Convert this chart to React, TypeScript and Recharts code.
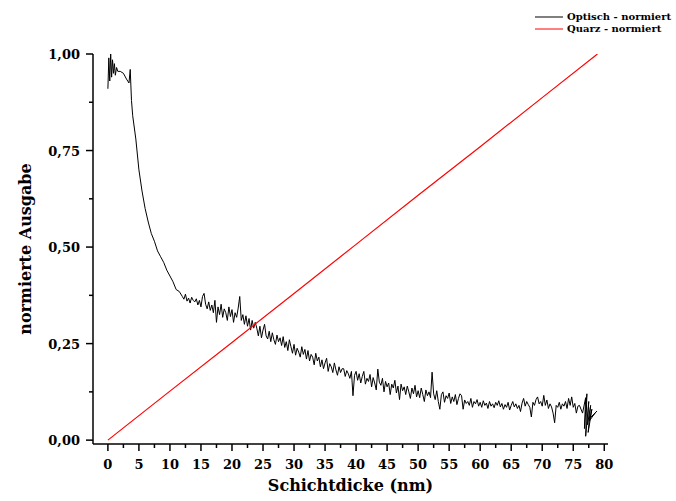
import React from 'react';
import { LineChart, Line, XAxis, YAxis, Legend } from 'recharts';

// optical signal, steep start (Schichtdicke in nm)
const START_NM = [
  0, 0.15, 0.3, 0.45, 0.6, 0.75, 0.9, 1.05, 1.2, 1.4,
  1.6, 2, 2.5, 3, 3.4, 3.6, 3.8, 4, 4.5, 5,
  5.5, 6, 6.5, 7, 7.5, 8, 8.5, 9, 9.5, 10,
  10.5, 11, 11.5,
];
const START_OPT = [
  0.91, 0.99, 0.93, 1.0, 0.94, 0.985, 0.95, 0.975, 0.945, 0.965,
  0.955, 0.955, 0.95, 0.935, 0.925, 0.96, 0.88, 0.84, 0.78, 0.7,
  0.645, 0.6, 0.565, 0.535, 0.515, 0.49, 0.475, 0.46, 0.44, 0.425,
  0.41, 0.39, 0.385,
];

// noisy middle part, sampled every 0.25 nm from 12 nm to 76 nm
const MID_FROM_NM = 12;
const MID_STEP_NM = 0.25;
const MID_OPT = [
  0.372, 0.365, 0.378, 0.36, 0.368, 0.355, 0.37, 0.362,
  0.358, 0.366, 0.35, 0.362, 0.345, 0.372, 0.38, 0.352,
  0.34, 0.358, 0.336, 0.35, 0.33, 0.362, 0.305, 0.345,
  0.325, 0.352, 0.318, 0.34, 0.33, 0.31, 0.345, 0.32,
  0.338, 0.305, 0.33, 0.318, 0.342, 0.372, 0.31, 0.325,
  0.3, 0.322, 0.295, 0.315, 0.285, 0.31, 0.29, 0.305,
  0.29, 0.27, 0.295, 0.265, 0.285, 0.3, 0.27, 0.262,
  0.282, 0.255, 0.278, 0.26, 0.248, 0.272, 0.255, 0.265,
  0.245, 0.268, 0.24, 0.255, 0.232, 0.26, 0.242, 0.225,
  0.248, 0.22, 0.238, 0.228, 0.215, 0.242, 0.222, 0.235,
  0.21, 0.232, 0.205, 0.222, 0.215, 0.195, 0.225, 0.205,
  0.215, 0.19, 0.208, 0.185, 0.2, 0.212, 0.178, 0.198,
  0.19, 0.175, 0.2, 0.182, 0.168, 0.19, 0.175, 0.185,
  0.185, 0.165, 0.18, 0.172, 0.16, 0.178, 0.115, 0.168,
  0.178, 0.155, 0.172, 0.148, 0.165, 0.178, 0.145, 0.16,
  0.152, 0.17, 0.138, 0.162, 0.148, 0.13, 0.184, 0.15,
  0.142, 0.16, 0.125, 0.152, 0.138, 0.148, 0.118, 0.145,
  0.135, 0.155, 0.122, 0.14, 0.105, 0.145, 0.128, 0.138,
  0.118, 0.14, 0.125, 0.108, 0.135, 0.12, 0.142, 0.112,
  0.128, 0.11, 0.135, 0.118, 0.1, 0.13, 0.115, 0.125,
  0.11, 0.176, 0.12, 0.105, 0.128, 0.1, 0.08, 0.118,
  0.125, 0.098, 0.115, 0.108, 0.122, 0.095, 0.112, 0.1,
  0.118, 0.092, 0.108, 0.12, 0.115, 0.08, 0.104, 0.095,
  0.1, 0.09, 0.108, 0.085, 0.1, 0.094, 0.105, 0.088,
  0.098, 0.085, 0.102, 0.09, 0.096, 0.082, 0.1, 0.088,
  0.094, 0.084, 0.098, 0.09, 0.102, 0.086, 0.095, 0.08,
  0.092, 0.085, 0.098, 0.078, 0.09, 0.1, 0.086, 0.094,
  0.082, 0.09, 0.074, 0.096, 0.108, 0.088, 0.1, 0.092,
  0.085, 0.06, 0.098, 0.09, 0.105, 0.112, 0.094, 0.1,
  0.088, 0.116, 0.09, 0.104, 0.082, 0.094, 0.086, 0.07,
  0.045, 0.09, 0.085, 0.098, 0.08, 0.094, 0.088, 0.1,
  0.082, 0.108, 0.09, 0.112, 0.085, 0.095, 0.07, 0.088,
  0.09,
];

// the trace scribbles back and forth at the very end
const END_NM = [76.5, 77, 76.8, 77.2, 77, 77.5, 77.3, 77.8, 77.4, 78, 77.6, 78.5, 77.9, 78.8, 78.2];
const END_OPT = [0.07, 0.11, 0.03, 0.12, 0.01, 0.1, 0.04, 0.09, 0.02, 0.08, 0.05, 0.07, 0.06, 0.075, 0.065];

const QUARZ_NM = [0, 10, 20, 30, 40, 50, 60, 70, 78.9];
const QUARZ = [0, 0.127, 0.253, 0.38, 0.507, 0.634, 0.76, 0.887, 1.0];

const X_TICKS = [
  0, 2.5, 5, 7.5, 10, 12.5, 15, 17.5, 20, 22.5, 25, 27.5, 30, 32.5, 35, 37.5, 40,
  42.5, 45, 47.5, 50, 52.5, 55, 57.5, 60, 62.5, 65, 67.5, 70, 72.5, 75, 77.5, 80,
];
const Y_TICKS = [0, 0.125, 0.25, 0.375, 0.5, 0.625, 0.75, 0.875, 1.0];

const optData = [
  ...START_NM.map((x, i) => ({ x, y: START_OPT[i] })),
  ...MID_OPT.map((y, i) => ({ x: MID_FROM_NM + i * MID_STEP_NM, y })),
  ...END_NM.map((x, i) => ({ x, y: END_OPT[i] })),
];
const quarzData = QUARZ_NM.map((x, i) => ({ x, y: QUARZ[i] }));

const FONT = '"DejaVu Serif", serif';

const XTick = (props: any) => {
  const { x, y, payload } = props;
  const major = payload.value % 5 === 0;
  return (
    <g>
      <line x1={x} x2={x} y1={y} y2={y + (major ? 7 : 4)} stroke="#000" strokeWidth={1.5} />
      {major && (
        <text x={x} y={y + 25} textAnchor="middle" fontFamily={FONT} fontWeight="bold" fontSize={13} fill="#000">
          {payload.value}
        </text>
      )}
    </g>
  );
};

const YTick = (props: any) => {
  const { x, y, payload } = props;
  const major = Math.round(payload.value * 1000) % 250 === 0;
  return (
    <g>
      <line x1={x} x2={x - (major ? 7 : 4)} y1={y} y2={y} stroke="#000" strokeWidth={1.5} />
      {major && (
        <text x={x - 13} y={y + 5} textAnchor="end" fontFamily={FONT} fontWeight="bold" fontSize={13} fill="#000">
          {payload.value.toFixed(2).replace('.', ',')}
        </text>
      )}
    </g>
  );
};

const LegendBox = (props: any) => {
  const { payload } = props;
  return (
    <div style={{ fontFamily: FONT, fontWeight: 'bold', fontSize: 10, lineHeight: '12px' }}>
      {(payload || []).map((p: any) => (
        <div key={p.value} style={{ display: 'flex', alignItems: 'center', whiteSpace: 'nowrap' }}>
          <svg width={30} height={12}>
            <line x1={1} x2={29} y1={6} y2={6} stroke={p.color} strokeWidth={1} />
          </svg>
          <span style={{ marginLeft: 3 }}>{p.value}</span>
        </div>
      ))}
    </div>
  );
};

export default function App() {
  return (
    <div style={{ position: 'absolute', left: 0, top: 0, background: '#fff' }}>
      <LineChart width={676} height={501} margin={{ top: 54, right: 68, bottom: 27, left: 13 }}>
        <XAxis
          type="number"
          dataKey="x"
          domain={[-2.4, 80.6]}
          ticks={X_TICKS}
          allowDataOverflow
          height={30}
          tickSize={0}
          tickMargin={0}
          tickLine={false}
          tick={<XTick />}
          interval={0}
          axisLine={{ stroke: '#000', strokeWidth: 1.5 }}
          label={{ value: 'Schichtdicke (nm)', position: 'bottom', offset: 6, style: { fontFamily: FONT, fontWeight: 'bold', fontSize: 16, fill: '#000' } }}
        />
        <YAxis
          type="number"
          dataKey="y"
          domain={[-0.01, 1.0]}
          ticks={Y_TICKS}
          allowDataOverflow
          width={80}
          tickSize={0}
          tickMargin={0}
          tickLine={false}
          tick={<YTick />}
          interval={0}
          axisLine={{ stroke: '#000', strokeWidth: 1.5 }}
          label={{ value: 'normierte Ausgabe', angle: -90, position: 'insideLeft', offset: 12, style: { textAnchor: 'middle', fontFamily: FONT, fontWeight: 'bold', fontSize: 16, fill: '#000' } }}
        />
        <Legend
          layout="vertical"
          align="center"
          verticalAlign="middle"
          wrapperStyle={{ top: 11, left: 534, width: 142, height: 26 }}
          content={<LegendBox />}
        />
        <Line
          data={optData}
          type="linear"
          dataKey="y"
          name="Optisch - normiert"
          stroke="#000"
          strokeWidth={1}
          dot={false}
          isAnimationActive={false}
        />
        <Line
          data={quarzData}
          type="linear"
          dataKey="y"
          name="Quarz - normiert"
          stroke="#ff0000"
          strokeWidth={1.2}
          dot={false}
          isAnimationActive={false}
        />
      </LineChart>
    </div>
  );
}
